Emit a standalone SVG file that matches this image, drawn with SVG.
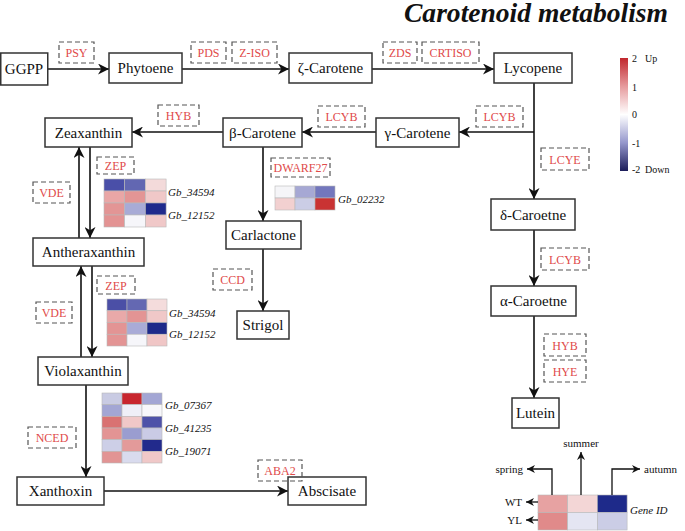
<svg xmlns="http://www.w3.org/2000/svg" width="685" height="531" viewBox="0 0 685 531" font-family="Liberation Serif">
<style>
.f{font-family:'Liberation Serif', serif}
.node rect{fill:#fff;stroke:#333;stroke-width:1.5}
.node text{font-size:15px;fill:#111;text-anchor:middle}
.enz rect{fill:none;stroke:#555;stroke-width:1.2;stroke-dasharray:5,3}
.enz text{font-size:12px;fill:#e04a4a;text-anchor:middle}
.conn path{fill:none;stroke:#111;stroke-width:1.6}
.key path{fill:none;stroke:#111;stroke-width:1.3}
.hm rect{stroke:#b8b8b8;stroke-width:0.6}
.gid{font-size:11px;font-style:italic;fill:#111}
.lg{font-size:10px;fill:#111}
.kt{font-size:11px;fill:#111}
.title{font-size:27px;font-weight:bold;font-style:italic;fill:#111}
</style>
<defs>
<marker id="ah" markerUnits="userSpaceOnUse" markerWidth="11" markerHeight="11" refX="10" refY="5" orient="auto" viewBox="0 0 10 10">
<path d="M0,0 L10,5 L0,10 L3,5 z" fill="#111"/>
</marker>
<marker id="ahs" markerUnits="userSpaceOnUse" markerWidth="8" markerHeight="8" refX="10" refY="5" orient="auto" viewBox="0 0 10 10">
<path d="M0,0 L10,5 L0,10 L3,5 z" fill="#111"/>
</marker>
<linearGradient id="cb" x1="0" y1="0" x2="0" y2="1">
<stop offset="0" stop-color="#c1272d"/>
<stop offset="0.25" stop-color="#e69a9d"/>
<stop offset="0.5" stop-color="#ffffff"/>
<stop offset="0.75" stop-color="#9597cc"/>
<stop offset="1" stop-color="#1c1d5a"/>
</linearGradient>
</defs>
<rect width="685" height="531" fill="#fff"/>
<text class="f title" font-family="Liberation Serif" x="404" y="22" textLength="264" lengthAdjust="spacingAndGlyphs">Carotenoid metabolism</text>

<g id="connectors" class="conn">
<path d="M48,69 H109" marker-end="url(#ah)"/>
<path d="M182,69 H289" marker-end="url(#ah)"/>
<path d="M372,69 H494" marker-end="url(#ah)"/>
<path d="M534,83 V199" marker-end="url(#ah)"/>
<path d="M534,132 H459" marker-end="url(#ah)"/>
<path d="M376,132 H302" marker-end="url(#ah)"/>
<path d="M223,132 H132" marker-end="url(#ah)"/>
<path d="M263,147 V221" marker-end="url(#ah)"/>
<path d="M263,249 V311" marker-end="url(#ah)"/>
<path d="M79,238 V147" marker-end="url(#ah)"/>
<path d="M90,147 V238" marker-end="url(#ah)"/>
<path d="M81,357 V266" marker-end="url(#ah)"/>
<path d="M92,266 V357" marker-end="url(#ah)"/>
<path d="M86,385 V477" marker-end="url(#ah)"/>
<path d="M104,491 H288" marker-end="url(#ah)"/>
<path d="M534,230 V286" marker-end="url(#ah)"/>
<path d="M534,316 V398" marker-end="url(#ah)"/>
</g>

<g id="n-ggpp" class="node"><rect x="0.75" y="53" width="47" height="32"/><text class="f" font-family="Liberation Serif" x="24" y="74">GGPP</text></g>
<g id="n-phytoene" class="node"><rect x="109" y="53" width="73" height="30"/><text class="f" font-family="Liberation Serif" x="145.5" y="73">Phytoene</text></g>
<g id="n-zeta" class="node"><rect x="289" y="53" width="83" height="30"/><text class="f" font-family="Liberation Serif" x="330.5" y="73">ζ-Carotene</text></g>
<g id="n-lycopene" class="node"><rect x="494" y="53" width="78" height="30"/><text class="f" font-family="Liberation Serif" x="533" y="73">Lycopene</text></g>
<g id="n-gamma" class="node"><rect x="376" y="118" width="83" height="29"/><text class="f" font-family="Liberation Serif" x="417.5" y="137.5">γ-Carotene</text></g>
<g id="n-beta" class="node"><rect x="223" y="118" width="79" height="29"/><text class="f" font-family="Liberation Serif" x="262.5" y="137.5">β-Carotene</text></g>
<g id="n-zea" class="node"><rect x="45" y="118" width="87" height="29"/><text class="f" font-family="Liberation Serif" x="88.5" y="137.5">Zeaxanthin</text></g>
<g id="n-anth" class="node"><rect x="33" y="238" width="111" height="28"/><text class="f" font-family="Liberation Serif" x="88.5" y="257">Antheraxanthin</text></g>
<g id="n-viola" class="node"><rect x="38" y="357" width="90" height="28"/><text class="f" font-family="Liberation Serif" x="83" y="376">Violaxanthin</text></g>
<g id="n-xanth" class="node"><rect x="17" y="477" width="87" height="28"/><text class="f" font-family="Liberation Serif" x="60.5" y="496">Xanthoxin</text></g>
<g id="n-absc" class="node"><rect x="288" y="477" width="78" height="28"/><text class="f" font-family="Liberation Serif" x="327" y="496">Abscisate</text></g>
<g id="n-carl" class="node"><rect x="226" y="221" width="75" height="28"/><text class="f" font-family="Liberation Serif" x="263.5" y="240">Carlactone</text></g>
<g id="n-strig" class="node"><rect x="237" y="311" width="52" height="28"/><text class="f" font-family="Liberation Serif" x="263" y="330">Strigol</text></g>
<g id="n-delta" class="node"><rect x="491" y="199" width="84" height="31"/><text class="f" font-family="Liberation Serif" x="533" y="220">δ-Caroetne</text></g>
<g id="n-alpha" class="node"><rect x="491" y="286" width="85" height="30"/><text class="f" font-family="Liberation Serif" x="533.5" y="306">α-Caroetne</text></g>
<g id="n-lutein" class="node"><rect x="512" y="398" width="47" height="30"/><text class="f" font-family="Liberation Serif" x="535.5" y="418">Lutein</text></g>

<g id="enzymes">
<g class="enz"><rect x="59" y="42" width="35" height="21"/><text class="f" font-family="Liberation Serif" x="76.5" y="57">PSY</text></g>
<g class="enz"><rect x="191" y="42" width="35" height="21"/><text class="f" font-family="Liberation Serif" x="208.5" y="57">PDS</text></g>
<g class="enz"><rect x="232" y="42" width="45" height="21"/><text class="f" font-family="Liberation Serif" x="254.5" y="57">Z-ISO</text></g>
<g class="enz"><rect x="383" y="42" width="34" height="21"/><text class="f" font-family="Liberation Serif" x="400" y="57">ZDS</text></g>
<g class="enz"><rect x="422" y="42" width="57" height="21"/><text class="f" font-family="Liberation Serif" x="450.5" y="57">CRTISO</text></g>
<g class="enz"><rect x="318" y="106" width="47" height="21"/><text class="f" font-family="Liberation Serif" x="341.5" y="121">LCYB</text></g>
<g class="enz"><rect x="158" y="105" width="41" height="21"/><text class="f" font-family="Liberation Serif" x="178.5" y="120">HYB</text></g>
<g class="enz"><rect x="476" y="106" width="47" height="21"/><text class="f" font-family="Liberation Serif" x="499.5" y="121">LCYB</text></g>
<g class="enz"><rect x="541" y="148" width="48" height="22"/><text class="f" font-family="Liberation Serif" x="565" y="163.5">LCYE</text></g>
<g class="enz"><rect x="271" y="158" width="59" height="19"/><text class="f" font-family="Liberation Serif" x="300.5" y="172">DWARF27</text></g>
<g class="enz"><rect x="97" y="157" width="37" height="17"/><text class="f" font-family="Liberation Serif" x="115.5" y="170">ZEP</text></g>
<g class="enz"><rect x="97" y="276" width="38" height="18"/><text class="f" font-family="Liberation Serif" x="116" y="289.5">ZEP</text></g>
<g class="enz"><rect x="33" y="182" width="37" height="21"/><text class="f" font-family="Liberation Serif" x="51.5" y="197">VDE</text></g>
<g class="enz"><rect x="36" y="302" width="36" height="21"/><text class="f" font-family="Liberation Serif" x="54" y="317">VDE</text></g>
<g class="enz"><rect x="28" y="427" width="48" height="21"/><text class="f" font-family="Liberation Serif" x="52" y="442">NCED</text></g>
<g class="enz"><rect x="213" y="269" width="39" height="21"/><text class="f" font-family="Liberation Serif" x="232.5" y="284">CCD</text></g>
<g class="enz"><rect x="258" y="460" width="44" height="21"/><text class="f" font-family="Liberation Serif" x="280" y="475">ABA2</text></g>
<g class="enz"><rect x="541" y="248" width="48" height="22"/><text class="f" font-family="Liberation Serif" x="565" y="263.5">LCYB</text></g>
<g class="enz"><rect x="544" y="334" width="42" height="22"/><text class="f" font-family="Liberation Serif" x="565" y="349.5">HYB</text></g>
<g class="enz"><rect x="544" y="360" width="42" height="22"/><text class="f" font-family="Liberation Serif" x="565" y="375.5">HYE</text></g>
</g>

<g id="heatmap-zep1" class="hm">
<rect x="104" y="179" width="20.7" height="12" fill="#4a4fa8"/><rect x="124.7" y="179" width="20.7" height="12" fill="#6267b2"/><rect x="145.4" y="179" width="20.7" height="12" fill="#f3dada"/>
<rect x="104" y="191" width="20.7" height="12" fill="#e9a6a6"/><rect x="124.7" y="191" width="20.7" height="12" fill="#e39595"/><rect x="145.4" y="191" width="20.7" height="12" fill="#f0c8c8"/>
<rect x="104" y="203" width="20.7" height="12" fill="#e39595"/><rect x="124.7" y="203" width="20.7" height="12" fill="#a8abd6"/><rect x="145.4" y="203" width="20.7" height="12" fill="#1f2a8c"/>
<rect x="104" y="215" width="20.7" height="12" fill="#e39393"/><rect x="124.7" y="215" width="20.7" height="12" fill="#f6f6fa"/><rect x="145.4" y="215" width="20.7" height="12" fill="#f0c8c8"/>
<text class="f gid" font-family="Liberation Serif" x="168" y="195.5">Gb_34594</text><text class="f gid" font-family="Liberation Serif" x="168" y="218.5">Gb_12152</text>
</g>
<g id="heatmap-zep2" class="hm">
<rect x="107" y="299" width="20" height="11.75" fill="#4b4fa6"/><rect x="127" y="299" width="20" height="11.75" fill="#6468b2"/><rect x="147" y="299" width="20" height="11.75" fill="#f4dcdc"/>
<rect x="107" y="310.75" width="20" height="11.75" fill="#e9a9a9"/><rect x="127" y="310.75" width="20" height="11.75" fill="#e39494"/><rect x="147" y="310.75" width="20" height="11.75" fill="#f0c8c8"/>
<rect x="107" y="322.5" width="20" height="11.75" fill="#e39494"/><rect x="127" y="322.5" width="20" height="11.75" fill="#a9abd7"/><rect x="147" y="322.5" width="20" height="11.75" fill="#1e2a8a"/>
<rect x="107" y="334.25" width="20" height="11.75" fill="#e39494"/><rect x="127" y="334.25" width="20" height="11.75" fill="#f6f6fa"/><rect x="147" y="334.25" width="20" height="11.75" fill="#f0c6c6"/>
<text class="f gid" font-family="Liberation Serif" x="169" y="316.5">Gb_34594</text><text class="f gid" font-family="Liberation Serif" x="169" y="338">Gb_12152</text>
</g>
<g id="heatmap-nced" class="hm">
<rect x="102" y="393" width="20" height="11.67" fill="#c9cbe3"/><rect x="122" y="393" width="20" height="11.67" fill="#c8262e"/><rect x="142" y="393" width="20" height="11.67" fill="#a3a6d4"/>
<rect x="102" y="404.67" width="20" height="11.67" fill="#a3a6d4"/><rect x="122" y="404.67" width="20" height="11.67" fill="#efeff7"/><rect x="142" y="404.67" width="20" height="11.67" fill="#f7f7fa"/>
<rect x="102" y="416.33" width="20" height="11.67" fill="#d97272"/><rect x="122" y="416.33" width="20" height="11.67" fill="#f0c8c8"/><rect x="142" y="416.33" width="20" height="11.67" fill="#4e52a8"/>
<rect x="102" y="428" width="20" height="11.67" fill="#e39494"/><rect x="122" y="428" width="20" height="11.67" fill="#9a9dd0"/><rect x="142" y="428" width="20" height="11.67" fill="#cacbe5"/>
<rect x="102" y="439.67" width="20" height="11.67" fill="#cdcfe7"/><rect x="122" y="439.67" width="20" height="11.67" fill="#e39a9a"/><rect x="142" y="439.67" width="20" height="11.67" fill="#222a8c"/>
<rect x="102" y="451.33" width="20" height="11.67" fill="#e29494"/><rect x="122" y="451.33" width="20" height="11.67" fill="#d9dbee"/><rect x="142" y="451.33" width="20" height="11.67" fill="#f0c8c8"/>
<text class="f gid" font-family="Liberation Serif" x="165" y="409">Gb_07367</text><text class="f gid" font-family="Liberation Serif" x="165" y="432">Gb_41235</text><text class="f gid" font-family="Liberation Serif" x="165" y="455">Gb_19071</text>
</g>
<g id="heatmap-dwarf" class="hm">
<rect x="275" y="186" width="20" height="12" fill="#f5f5f8"/><rect x="295" y="186" width="20" height="12" fill="#a6a8d4"/><rect x="315" y="186" width="20" height="12" fill="#7377bd"/>
<rect x="275" y="198" width="20" height="12" fill="#f2d0d0"/><rect x="295" y="198" width="20" height="12" fill="#cbcde6"/><rect x="315" y="198" width="20" height="12" fill="#c93333"/>
<text class="f gid" font-family="Liberation Serif" x="338" y="203">Gb_02232</text>
</g>

<g id="legend">
<rect x="620" y="58" width="8" height="113" fill="url(#cb)"/>
<text class="f lg" font-family="Liberation Serif" x="632" y="62">2</text><text class="f lg" font-family="Liberation Serif" x="645" y="62">Up</text>
<text class="f lg" font-family="Liberation Serif" x="632" y="91">1</text>
<text class="f lg" font-family="Liberation Serif" x="632" y="118">0</text>
<text class="f lg" font-family="Liberation Serif" x="632" y="147">-1</text>
<text class="f lg" font-family="Liberation Serif" x="632" y="173">-2</text><text class="f lg" font-family="Liberation Serif" x="645" y="173">Down</text>
</g>

<g id="key">
<g class="hm">
<rect x="538" y="495" width="29.7" height="17.5" fill="#e7a2a2"/><rect x="567.7" y="495" width="29.7" height="17.5" fill="#f3d6d6"/><rect x="597.4" y="495" width="29.7" height="17.5" fill="#1e2a8a"/>
<rect x="538" y="512.5" width="29.7" height="17.5" fill="#e08a8a"/><rect x="567.7" y="512.5" width="29.7" height="17.5" fill="#e4e5f2"/><rect x="597.4" y="512.5" width="29.7" height="17.5" fill="#cbcde6"/>
</g>
<g class="key">
<path d="M552,495 V469 H527" marker-end="url(#ahs)"/>
<path d="M581,495 V452" marker-end="url(#ahs)"/>
<path d="M612,495 V469 H640" marker-end="url(#ahs)"/>
<path d="M538,502 H526" marker-end="url(#ahs)"/>
<path d="M538,520 H526" marker-end="url(#ahs)"/>
</g>
<text class="f kt" font-family="Liberation Serif" x="523" y="473" text-anchor="end">spring</text>
<text class="f kt" font-family="Liberation Serif" x="581" y="447" text-anchor="middle">summer</text>
<text class="f kt" font-family="Liberation Serif" x="644" y="473">autumn</text>
<text class="f kt" font-family="Liberation Serif" x="522" y="506" text-anchor="end">WT</text>
<text class="f kt" font-family="Liberation Serif" x="522" y="524" text-anchor="end">YL</text>
<text class="f gid" font-family="Liberation Serif" x="630" y="514" font-size="12">Gene ID</text>
</g>
</svg>
